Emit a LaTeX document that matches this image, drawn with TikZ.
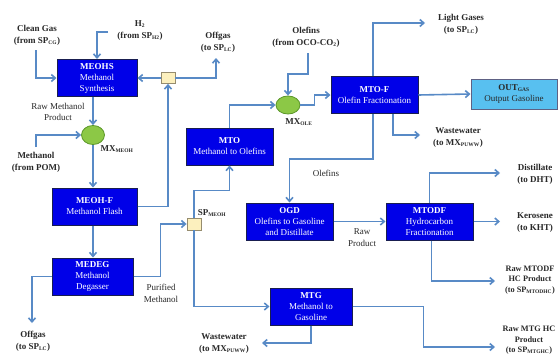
\documentclass[tikz,border=0pt]{standalone}
\usepackage{fontspec}
\setmainfont{Liberation Serif}
\usetikzlibrary{arrows.meta,shapes.geometric,calc}
\definecolor{procblue}{RGB}{0,0,232}
\definecolor{procedge}{RGB}{25,30,80}
\definecolor{outblue}{RGB}{88,192,240}
\definecolor{flowblue}{RGB}{88,138,198}
\definecolor{lblgray}{RGB}{40,40,40}
\definecolor{splitfill}{RGB}{252,240,190}
\definecolor{splitedge}{RGB}{150,140,110}
\definecolor{mixfill}{RGB}{140,200,70}
\definecolor{mixedge}{RGB}{90,150,40}
\newcommand\sbs[1]{\textsubscript{\fontsize{5.5}{6}\selectfont #1}}
\tikzset{
  unitbox/.style={rectangle,draw=procedge,line width=1pt,fill=procblue,text=white,
    align=center,inner sep=1pt,minimum height=37pt,font=\fontsize{9}{11}\selectfont},
  outbox/.style={rectangle,draw=procedge!70,line width=1pt,fill=outblue,text=lblgray,
    align=center,inner sep=1pt,font=\fontsize{9}{11}\selectfont},
  lbl/.style={align=center,text=lblgray,inner sep=0pt,font=\fontsize{9}{12}\selectfont\bfseries},
  slbl/.style={align=center,text=lblgray,inner sep=0pt,font=\fontsize{8.3}{10.5}\selectfont\bfseries},
  rlbl/.style={align=center,text=lblgray,inner sep=0pt,font=\fontsize{9}{11.5}\selectfont},
  flow/.style={draw=flowblue,line width=1.6pt,-{Straight Barb[length=4pt,width=7pt]}},
  splitter/.style={rectangle,draw=splitedge,line width=0.8pt,fill=splitfill,minimum width=14pt,minimum height=11pt,inner sep=0pt},
  mixer/.style={ellipse,draw=mixedge,line width=0.8pt,fill=mixfill,minimum width=24pt,minimum height=18pt,inner sep=0pt}
}
\begin{document}
\begin{tikzpicture}[x=1pt,y=-1pt]
\useasboundingbox (0,0) rectangle (558,359);
% units
\node[unitbox,minimum width=80pt] (meohs) at (97,78) {\textbf{MEOHS}\\Methanol\\Synthesis};
\node[unitbox,minimum width=85pt] (meohf) at (94.5,206.5) {\textbf{MEOH-F}\\Methanol Flash};
\node[unitbox,minimum width=81pt] (medeg) at (92.5,276.5) {\textbf{MEDEG}\\Methanol\\Degasser};
\node[unitbox,minimum width=87pt] (mto) at (229.5,146.5) {\textbf{MTO}\\Methanol to Olefins};
\node[unitbox,minimum width=87pt] (mtof) at (374.5,95) {\textbf{MTO-F}\\Olefin Fractionation};
\node[outbox,minimum width=86pt,minimum height=30pt] (out) at (514,94) {\textbf{OUT\sbs{GAS}}\\Output Gasoline};
\node[unitbox,minimum width=87pt] (ogd) at (289.5,221.5) {\textbf{OGD}\\Olefins to Gasoline\\and Distillate};
\node[unitbox,minimum width=87pt] (mtodf) at (429.5,221.5) {\textbf{MTODF}\\Hydrocarbon\\Fractionation};
\node[unitbox,minimum width=82pt] (mtg) at (311,306.5) {\textbf{MTG}\\Methanol to\\Gasoline};
% splitters and mixers
\node[splitter] (sp1) at (168,78) {};
\node[splitter,minimum height=12pt] (sp2) at (194,224) {};
\node[mixer,minimum width=23pt,minimum height=19pt] (mxm) at (93,135) {};
\node[mixer] (mxo) at (288,105) {};
% labels
\node[lbl] (lcg) at (37,35.5) {Clean Gas\\(from SP\sbs{CG})};
\node[lbl] (lh2) at (140,31) {H\sbs{2}\\(from SP\sbs{H2})};
\node[lbl] (log1) at (218,42) {Offgas\\(to SP\sbs{LC})};
\node[rlbl] (lrmp) at (58,112) {Raw Methanol\\Product};
\node[lbl] (lpom) at (36,162) {Methanol\\(from POM)};
\node[lbl] (lmxm) at (117,149) {MX\sbs{MEOH}};
\node[lbl] (log2) at (33,341) {Offgas\\(to SP\sbs{LC})};
\node[rlbl] (lpm) at (161,293.5) {Purified\\Methanol};
\node[lbl] (lspm) at (212,213) {SP\sbs{MEOH}};
\node[lbl] (lmxo) at (299,122) {MX\sbs{OLE}};
\node[lbl] (loco) at (306,37.5) {Olefins\\(from OCO-CO\sbs{2})};
\node[lbl] (llg) at (461,24) {Light Gases\\(to SP\sbs{LC})};
\node[lbl] (lww1) at (458,138) {Wastewater\\(to MX\sbs{PUWW})};
\node[rlbl] (lol) at (326,173) {Olefins};
\node[rlbl] (lrp) at (362,237.5) {Raw\\Product};
\node[lbl] (ldist) at (535,174) {Distillate\\(to DHT)};
\node[lbl] (lker) at (535,222.5) {Kerosene\\(to KHT)};
\node[slbl] (lrmtod) at (530,280) {Raw MTODF\\HC Product\\(to SP\sbs{MTODHC})};
\node[lbl] (lww2) at (224,344) {Wastewater\\(to MX\sbs{PUWW})};
\node[slbl] (lrmtg) at (529,340.5) {Raw MTG HC\\Product\\(to SP\sbs{MTGHC})};
% free ends
\coordinate (cg) at (36,50);
\coordinate (h2) at (108,32);
\coordinate (og1) at (216,58);
\coordinate (pom) at (36,147);
\coordinate (og2) at (32,323);
\coordinate (ww1) at (262,343);
\coordinate (rmtg) at (495,347);
\coordinate (oco) at (308,53);
\coordinate (lg) at (425,23);
\coordinate (ww2) at (420,135);
\coordinate (dist) at (500,173);
\coordinate (ker) at (500,221.5);
\coordinate (rmtod) at (495,281);
% connectors
\draw[flow] (cg) |- (meohs.west);
\draw[flow] (h2) -| (meohs.north);
\draw[flow] (sp1.west) -- (meohs.east);
\draw[flow] (sp1.east) -| (og1);
\draw[flow] (meohf.east) -| (sp1.south);
\draw[flow] (meohs.south -| mxm.north) -- (mxm.north);
\draw[flow] (pom) |- (mxm.west);
\draw[flow] (mxm.south) -- (mxm.south |- meohf.north);
\draw[flow] (mxm.south |- meohf.south) -- (mxm.south |- medeg.north);
\draw[flow] (medeg.west) -| (og2);
\draw[flow] (medeg.east) -- ++(27,0) |- (sp2.west);
\draw[flow] (sp2.north) -- ++(0,-27) -| (mto.south);
\draw[flow] (sp2.south) |- (mtg.west);
\draw[flow] (mtg.south) |- (ww1);
\draw[flow] (mtg.east) -- ++(71,0) |- (rmtg);
\draw[flow] (mto.north) |- (mxo.west);
\draw[flow] (oco) -- ++(0,21) -| (mxo.north);
\draw[flow] (mxo.east) -- ++(14,0) |- (mtof.west);
\draw[flow] ($(mtof.north)+(-1.5,0)$) |- (lg);
\draw[flow] (mtof.east) -- (out.west);
\draw[flow] ($(mtof.south)+(18.5,0)$) |- (ww2);
\draw[flow] ($(mtof.south)+(-1.5,0)$) -- ++(0,45) -| (ogd.north);
\draw[flow] (ogd.east) -- (mtodf.west);
\draw[flow] (mtodf.north) |- (dist);
\draw[flow] (mtodf.east) -- (ker);
\draw[flow] ($(mtodf.south)+(2,0)$) |- (rmtod);
\end{tikzpicture}
\end{document}
